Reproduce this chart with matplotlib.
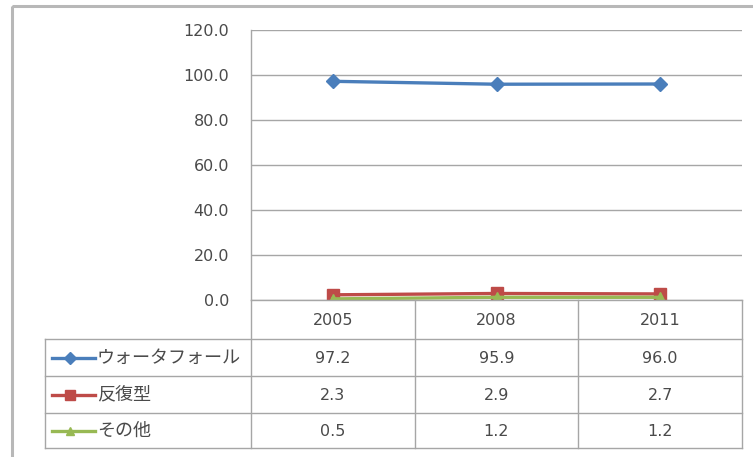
import matplotlib
matplotlib.use("Agg")
import matplotlib.pyplot as plt
from matplotlib.lines import Line2D
from matplotlib.patches import Rectangle

plt.rcParams['font.family'] = ['DejaVu Sans', 'Noto Sans CJK JP']

years = ["2005", "2008", "2011"]
series_names = ["ウォータフォール", "反復型", "その他"]
waterfall = [97.2, 95.9, 96.0]
iterative = [2.3, 2.9, 2.7]
other = [0.5, 1.2, 1.2]
yticks = [0, 20, 40, 60, 80, 100, 120]

series = [waterfall, iterative, other]
colors = ["#4A7EBB", "#BE4B48", "#98B954"]
markers = ["D", "s", "^"]
msizes = [7.5, 9, 7.5]

W, H = 753, 457
fig = plt.figure(figsize=(W / 100, H / 100), dpi=100)

NUMFONT = dict(family="DejaVu Sans", size=11.5)
JPFONT = dict(family=["Noto Sans CJK JP", "DejaVu Sans"], size=13)

# plot area in pixels
L, R, T, B = 251, 742, 30, 300
ax = fig.add_axes([L / W, 1 - B / H, (R - L) / W, (B - T) / H])
x = list(range(len(years)))
for vals, c, m, ms in zip(series, colors, markers, msizes):
    ax.plot(x, vals, color=c, lw=2.4, marker=m, ms=ms, mec=c, mfc=c, zorder=3)
ax.set_xlim(-0.5, len(years) - 0.5)
ax.set_ylim(0, 120)
ax.set_yticks(yticks)
ax.set_yticklabels([f"{v:.1f}" for v in yticks], color="#4a4a4a", **NUMFONT)
ax.tick_params(axis='y', length=0, pad=15.8)
ax.set_xticks([])
for v in yticks:
    ax.axhline(v, color="#a6a6a6", lw=1, zorder=1)
for s in ["top", "right", "bottom"]:
    ax.spines[s].set_visible(False)
ax.spines["left"].set_color("#a6a6a6")
ax.spines["left"].set_linewidth(1)
ax.patch.set_alpha(0)

# overlay in pixel coordinates for table and frame
ov = fig.add_axes([0, 0, 1, 1], zorder=-1)
ov.set_xlim(0, W)
ov.set_ylim(H, 0)
ov.axis("off")
ov.add_patch(Rectangle((12, 6), 800, 500, fill=False, ec="#b8b8b8", lw=2.2))

ncol = len(years)
colw = (R - L) / ncol
col_edges = [L + i * colw for i in range(ncol + 1)]
row_edges = [300, 339, 376, 413, 448]
tab_left = 45
gc = "#a6a6a6"
ax2 = fig.add_axes([0, 0, 1, 1], zorder=5)
ax2.set_xlim(0, W)
ax2.set_ylim(H, 0)
ax2.axis("off")
ax2.plot([L, R], [row_edges[0]] * 2, color=gc, lw=1)
for y in row_edges[1:]:
    ax2.plot([tab_left, R], [y, y], color=gc, lw=1)
ax2.plot([tab_left, tab_left], [row_edges[1], row_edges[-1]], color=gc, lw=1)
for xe in col_edges:
    ax2.plot([xe, xe], [row_edges[0], row_edges[-1]], color=gc, lw=1)

tc = "#4a4a4a"
for i, yr in enumerate(years):
    cx = (col_edges[i] + col_edges[i + 1]) / 2
    ax2.text(cx, (row_edges[0] + row_edges[1]) / 2 + 1, yr, ha="center", va="center", color=tc, **NUMFONT)
for r, (name, vals, c, m, ms) in enumerate(zip(series_names, series, colors, markers, msizes)):
    cy = (row_edges[r + 1] + row_edges[r + 2]) / 2
    ax2.add_line(Line2D([52, 95], [cy, cy], color=c, lw=2.4))
    ax2.add_line(Line2D([70], [cy], color=c, marker=m, ms=ms * 0.8, mec=c, mfc=c))
    ax2.text(97, cy, name, ha="left", va="center", color=tc, **JPFONT)
    for i, v in enumerate(vals):
        cx = (col_edges[i] + col_edges[i + 1]) / 2
        ax2.text(cx, cy + 1, f"{v:.1f}", ha="center", va="center", color=tc, **NUMFONT)

fig.savefig("out.png", dpi=100)
